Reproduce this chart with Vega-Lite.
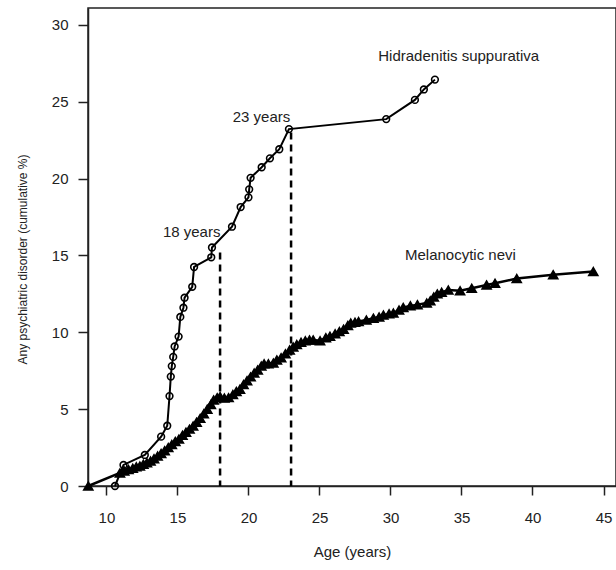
{
  "$schema": "https://vega.github.io/schema/vega-lite/v6.json",
  "width": 528,
  "height": 478,
  "autosize": {"type": "none"},
  "padding": {"left": 88, "top": 8, "right": 0, "bottom": 84},
  "background": "white",
  "config": {
    "view": {"stroke": "#222", "strokeWidth": 1.5},
    "font": "Liberation Sans",
    "axis": {
      "domainColor": "#222",
      "domainWidth": 1.5,
      "tickColor": "#222",
      "tickWidth": 1.5,
      "grid": false,
      "labelFont": "Liberation Sans",
      "labelFontSize": 15,
      "labelColor": "#222",
      "titleFont": "Liberation Sans",
      "titleFontSize": 15,
      "titleFontWeight": "normal",
      "titleColor": "#222"
    }
  },
  "datasets": {
    "hs": [
      {"age": 10.6, "pct": 0},
      {"age": 11.2, "pct": 1.37},
      {"age": 12.7, "pct": 2.02},
      {"age": 13.85, "pct": 3.21},
      {"age": 14.28, "pct": 3.92},
      {"age": 14.44, "pct": 5.85},
      {"age": 14.53, "pct": 7.12},
      {"age": 14.6, "pct": 7.8},
      {"age": 14.7, "pct": 8.4},
      {"age": 14.8, "pct": 9.08},
      {"age": 15.08, "pct": 9.72},
      {"age": 15.2, "pct": 11.0},
      {"age": 15.42, "pct": 11.6},
      {"age": 15.5, "pct": 12.25},
      {"age": 16.04, "pct": 12.96},
      {"age": 16.17, "pct": 14.25},
      {"age": 17.38, "pct": 14.88},
      {"age": 17.43, "pct": 15.52},
      {"age": 18.84, "pct": 16.87},
      {"age": 19.45, "pct": 18.15},
      {"age": 20.0, "pct": 18.78},
      {"age": 20.05, "pct": 19.3},
      {"age": 20.15, "pct": 20.05},
      {"age": 20.93, "pct": 20.74},
      {"age": 21.51, "pct": 21.32},
      {"age": 22.17, "pct": 21.91},
      {"age": 22.85, "pct": 23.22},
      {"age": 29.7, "pct": 23.87},
      {"age": 31.72, "pct": 25.12},
      {"age": 32.35, "pct": 25.8},
      {"age": 33.13, "pct": 26.44}
    ],
    "mn": [
      {"age": 8.72, "pct": 0.0},
      {"age": 10.95, "pct": 0.85},
      {"age": 11.25, "pct": 0.98},
      {"age": 11.55, "pct": 1.08},
      {"age": 11.85, "pct": 1.15},
      {"age": 12.1, "pct": 1.25},
      {"age": 12.35, "pct": 1.3},
      {"age": 12.6, "pct": 1.42},
      {"age": 12.85, "pct": 1.52},
      {"age": 13.1, "pct": 1.62},
      {"age": 13.35, "pct": 1.78},
      {"age": 13.6, "pct": 1.95},
      {"age": 13.85, "pct": 2.12},
      {"age": 14.1, "pct": 2.3},
      {"age": 14.35, "pct": 2.5},
      {"age": 14.6, "pct": 2.7},
      {"age": 14.85, "pct": 2.9},
      {"age": 15.1, "pct": 3.05},
      {"age": 15.35, "pct": 3.3},
      {"age": 15.6, "pct": 3.5},
      {"age": 15.85, "pct": 3.7},
      {"age": 16.1, "pct": 3.9},
      {"age": 16.35, "pct": 4.15},
      {"age": 16.6, "pct": 4.4},
      {"age": 16.85, "pct": 4.7},
      {"age": 17.1, "pct": 5.0},
      {"age": 17.35, "pct": 5.3},
      {"age": 17.55, "pct": 5.6},
      {"age": 17.8, "pct": 5.75},
      {"age": 18.0, "pct": 5.82},
      {"age": 18.3, "pct": 5.72},
      {"age": 18.6, "pct": 5.75},
      {"age": 18.9, "pct": 5.95},
      {"age": 19.15, "pct": 6.15},
      {"age": 19.4, "pct": 6.3},
      {"age": 19.65, "pct": 6.6},
      {"age": 19.9, "pct": 6.85},
      {"age": 20.15, "pct": 7.1},
      {"age": 20.4, "pct": 7.35},
      {"age": 20.65, "pct": 7.55},
      {"age": 20.9, "pct": 7.8},
      {"age": 21.1, "pct": 7.95},
      {"age": 21.4, "pct": 7.95},
      {"age": 21.75, "pct": 8.0},
      {"age": 22.0, "pct": 8.2},
      {"age": 22.3, "pct": 8.35},
      {"age": 22.6, "pct": 8.6},
      {"age": 22.9, "pct": 8.85},
      {"age": 23.15, "pct": 9.05},
      {"age": 23.4, "pct": 9.2},
      {"age": 23.7, "pct": 9.35},
      {"age": 24.0, "pct": 9.45},
      {"age": 24.3, "pct": 9.5},
      {"age": 24.56, "pct": 9.5},
      {"age": 25.04, "pct": 9.45},
      {"age": 25.45, "pct": 9.65},
      {"age": 25.74, "pct": 9.75},
      {"age": 26.1, "pct": 9.9},
      {"age": 26.4, "pct": 10.05},
      {"age": 26.7, "pct": 10.2},
      {"age": 27.0, "pct": 10.45},
      {"age": 27.2, "pct": 10.6},
      {"age": 27.5, "pct": 10.65},
      {"age": 27.75, "pct": 10.7},
      {"age": 28.3, "pct": 10.8},
      {"age": 28.8, "pct": 10.92},
      {"age": 29.2, "pct": 11.0},
      {"age": 29.5, "pct": 11.12},
      {"age": 29.9, "pct": 11.2},
      {"age": 30.2, "pct": 11.25},
      {"age": 30.6, "pct": 11.45},
      {"age": 30.9, "pct": 11.62},
      {"age": 31.4, "pct": 11.72},
      {"age": 31.9, "pct": 11.8},
      {"age": 32.55, "pct": 11.9},
      {"age": 32.8, "pct": 12.05},
      {"age": 33.05, "pct": 12.3},
      {"age": 33.3, "pct": 12.5},
      {"age": 33.6, "pct": 12.6},
      {"age": 34.07, "pct": 12.75},
      {"age": 34.9, "pct": 12.7},
      {"age": 35.72, "pct": 12.86},
      {"age": 36.77, "pct": 13.08},
      {"age": 37.36, "pct": 13.19},
      {"age": 38.89, "pct": 13.5},
      {"age": 41.46, "pct": 13.75},
      {"age": 44.28, "pct": 13.95}
    ],
    "refs": [
      {"age": 18, "top": 15.2},
      {"age": 23, "top": 23.0}
    ],
    "labels": [
      {"age": 29.14, "pct": 28.0, "text": "Hidradenitis suppurativa", "anchor": "left"},
      {"age": 20.92, "pct": 24.03, "text": "23 years", "anchor": "center"},
      {"age": 16.0, "pct": 16.55, "text": "18 years", "anchor": "center"},
      {"age": 31.02, "pct": 15.03, "text": "Melanocytic nevi", "anchor": "left"}
    ]
  },
  "layer": [
    {
      "data": {"name": "hs"},
      "mark": {"type": "line", "color": "black", "strokeWidth": 2},
      "encoding": {
        "x": {
          "field": "age",
          "type": "quantitative",
          "scale": {"domain": [8.7, 45.88], "nice": false, "zero": false},
          "axis": {
            "values": [10, 15, 20, 25, 30, 35, 40, 45],
            "tickSize": 9,
            "labelPadding": 15,
            "title": "Age (years)",
            "titleY": 65,
            "titleBaseline": "middle"
          }
        },
        "y": {
          "field": "pct",
          "type": "quantitative",
          "scale": {"domain": [0, 31.1], "nice": false, "zero": true},
          "axis": {
            "values": [0, 5, 10, 15, 20, 25, 30],
            "tickSize": 10,
            "labelPadding": 10,
            "labelAngle": 0,
            "title": "Any psychiatric disorder (cumulative %)",
            "titleFontSize": 12,
            "titleX": -66,
            "titleY": 251,
            "titleBaseline": "middle",
            "titleAngle": -90
          }
        }
      }
    },
    {
      "data": {"name": "refs"},
      "mark": {"type": "rule", "color": "black", "strokeWidth": 2.5, "strokeDash": [7, 5]},
      "encoding": {
        "x": {"field": "age", "type": "quantitative"},
        "y": {"field": "top", "type": "quantitative"},
        "y2": {"datum": 0}
      }
    },
    {
      "data": {"name": "mn"},
      "mark": {"type": "line", "color": "black", "strokeWidth": 2.5},
      "encoding": {
        "x": {"field": "age", "type": "quantitative"},
        "y": {"field": "pct", "type": "quantitative"}
      }
    },
    {
      "data": {"name": "mn"},
      "mark": {"type": "point", "shape": "triangle-up", "filled": true, "color": "black", "size": 85, "stroke": "black", "strokeWidth": 1.5, "opacity": 1},
      "encoding": {
        "x": {"field": "age", "type": "quantitative"},
        "y": {"field": "pct", "type": "quantitative"}
      }
    },
    {
      "data": {"name": "hs"},
      "mark": {"type": "point", "shape": "circle", "filled": false, "color": "black", "size": 45, "strokeWidth": 1.6, "opacity": 1},
      "encoding": {
        "x": {"field": "age", "type": "quantitative"},
        "y": {"field": "pct", "type": "quantitative"}
      }
    },
    {
      "data": {"name": "labels"},
      "transform": [{"filter": "datum.anchor == 'left'"}],
      "mark": {"type": "text", "align": "left", "baseline": "middle", "fontSize": 15, "color": "#222", "font": "Liberation Sans"},
      "encoding": {
        "x": {"field": "age", "type": "quantitative"},
        "y": {"field": "pct", "type": "quantitative"},
        "text": {"field": "text"}
      }
    },
    {
      "data": {"name": "labels"},
      "transform": [{"filter": "datum.anchor == 'center'"}],
      "mark": {"type": "text", "align": "center", "baseline": "middle", "fontSize": 15, "color": "#222", "font": "Liberation Sans"},
      "encoding": {
        "x": {"field": "age", "type": "quantitative"},
        "y": {"field": "pct", "type": "quantitative"},
        "text": {"field": "text"}
      }
    }
  ]
}
